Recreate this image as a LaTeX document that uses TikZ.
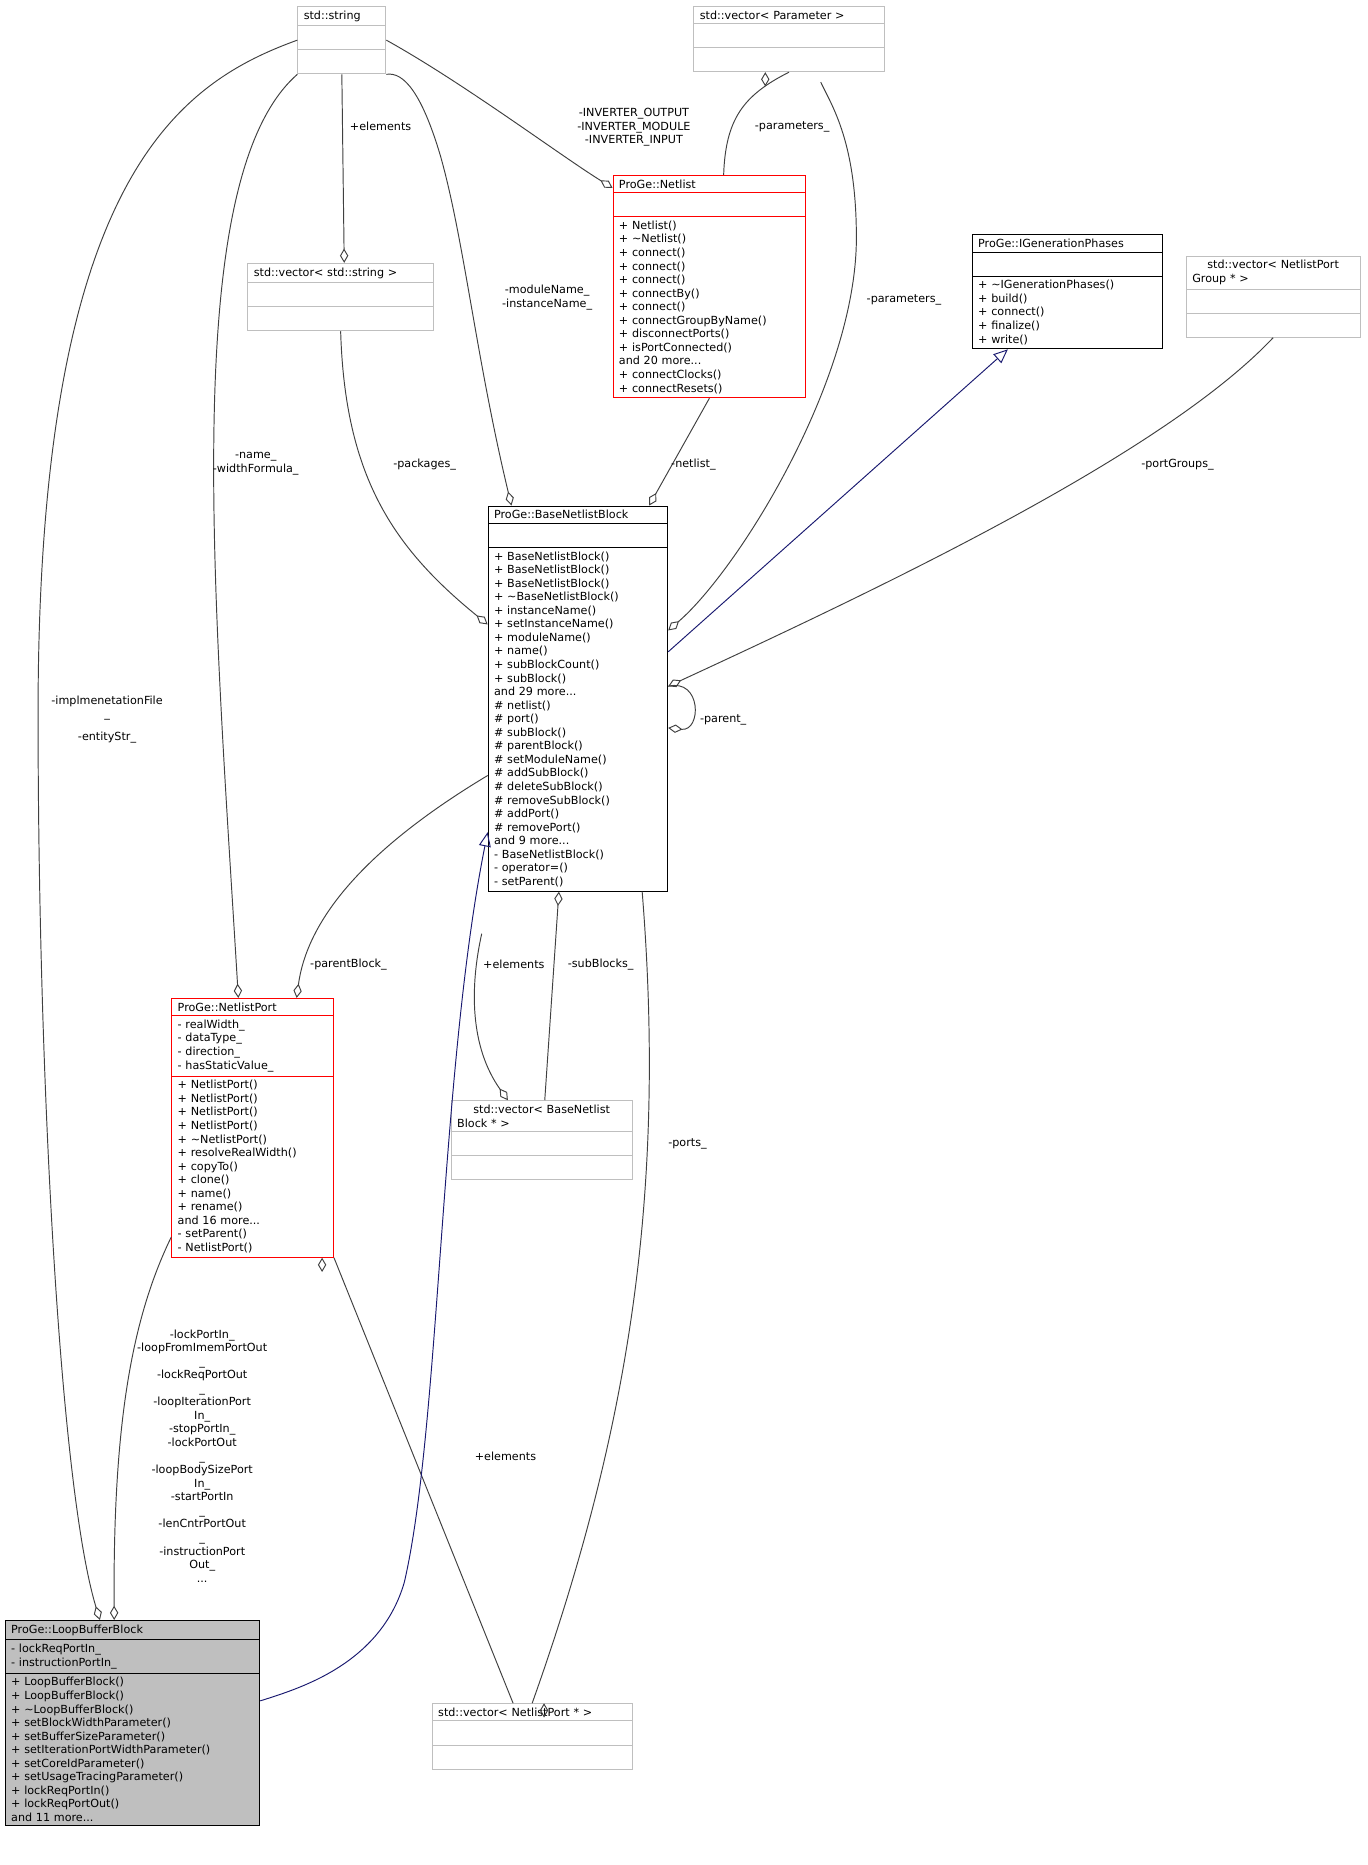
\documentclass[tikz,border=0pt]{standalone}
\usepackage{fontspec}
\setmainfont{DejaVu Sans}
\usetikzlibrary{arrows.meta, shapes.multipart}
\definecolor{edgeGray}{HTML}{404040}
\definecolor{boxGray}{HTML}{BFBFBF}
\definecolor{inhBlue}{HTML}{191970}
\definecolor{selFill}{HTML}{BFBFBF}
\newcommand{\emptypart}{\rule{0pt}{6.5pt}}
\newcommand{\tl}{\textasciitilde}

\begin{document}
\begin{tikzpicture}[
    x=0.5pt, y=-0.5pt,
    cls/.style={rectangle split, rectangle split parts=3, draw, anchor=north west,
      inner xsep=2.5pt, inner ysep=1.6pt, align=left, fill=white,
      font=\fontsize{4.7}{5.7}\selectfont},
    stdcls/.style={cls, draw=boxGray},
    redcls/.style={cls, draw=red},
    agg/.style={edgeGray, {Diamond[open, length=6pt, width=3.5pt]}-},
    inh/.style={inhBlue, {Triangle[open, length=6pt, width=5pt]}-},
    lbl/.style={font=\fontsize{4.7}{5.7}\selectfont, align=center, inner sep=0.5pt}
  ]
  \useasboundingbox[fill=white] (0,0) rectangle (1150,1568);

  % Template containers
  \node[stdcls, text width=32pt] (str) at (250,5) {\centering std::string\nodepart{second}\emptypart\nodepart{third}\emptypart};
  \node[stdcls, text width=75pt] (vpar) at (583,5) {\centering std::vector< Parameter >\nodepart{second}\emptypart\nodepart{third}\emptypart};
  \node[stdcls, text width=73pt] (vstr) at (208,221) {\centering std::vector< std::string >\nodepart{second}\emptypart\nodepart{third}\emptypart};
  \node[stdcls, text width=68pt] (vgrp) at (997,215) {\centering std::vector< NetlistPort\\Group * >\nodepart{second}\emptypart\nodepart{third}\emptypart};
  \node[stdcls, text width=71pt] (vblk) at (379,925) {\centering std::vector< BaseNetlist\\Block * >\nodepart{second}\emptypart\nodepart{third}\emptypart};
  \node[stdcls, text width=79pt] (vport) at (363,1432) {\centering std::vector< NetlistPort * >\nodepart{second}\emptypart\nodepart{third}\emptypart};

  % Classes
  \node[redcls, text width=76pt] (netlist) at (515,147) {\centering ProGe::Netlist\nodepart{second}\emptypart\nodepart{third}+ Netlist()\\+ \tl Netlist()\\+ connect()\\+ connect()\\+ connect()\\+ connectBy()\\+ connect()\\+ connectGroupByName()\\+ disconnectPorts()\\+ isPortConnected()\\and 20 more...\\+ connectClocks()\\+ connectResets()};
  \node[cls, text width=75pt] (igen) at (817,197) {\centering ProGe::IGenerationPhases\nodepart{second}\emptypart\nodepart{third}+ \tl IGenerationPhases()\\+ build()\\+ connect()\\+ finalize()\\+ write()};
  \node[cls, text width=70.5pt] (bnb) at (410,425) {\centering ProGe::BaseNetlistBlock\nodepart{second}\emptypart\nodepart{third}+ BaseNetlistBlock()\\+ BaseNetlistBlock()\\+ BaseNetlistBlock()\\+ \tl BaseNetlistBlock()\\+ instanceName()\\+ setInstanceName()\\+ moduleName()\\+ name()\\+ subBlockCount()\\+ subBlock()\\and 29 more...\\\# netlist()\\\# port()\\\# subBlock()\\\# parentBlock()\\\# setModuleName()\\\# addSubBlock()\\\# deleteSubBlock()\\\# removeSubBlock()\\\# addPort()\\\# removePort()\\and 9 more...\\- BaseNetlistBlock()\\- operator=()\\- setParent()};
  \node[redcls, text width=63pt] (nport) at (144,839) {\centering ProGe::NetlistPort\nodepart{second}- realWidth\_\\- dataType\_\\- direction\_\\- hasStaticValue\_\nodepart{third}+ NetlistPort()\\+ NetlistPort()\\+ NetlistPort()\\+ NetlistPort()\\+ \tl NetlistPort()\\+ resolveRealWidth()\\+ copyTo()\\+ clone()\\+ name()\\+ rename()\\and 16 more...\\- setParent()\\- NetlistPort()};
  \node[cls, fill=selFill, text width=102pt] (lbb) at (4,1362) {\centering ProGe::LoopBufferBlock\nodepart{second}- lockReqPortIn\_\\- instructionPortIn\_\nodepart{third}+ LoopBufferBlock()\\+ LoopBufferBlock()\\+ \tl LoopBufferBlock()\\+ setBlockWidthParameter()\\+ setBufferSizeParameter()\\+ setIterationPortWidthParameter()\\+ setCoreIdParameter()\\+ setUsageTracingParameter()\\+ lockReqPortIn()\\+ lockReqPortOut()\\and 11 more...};

  % Aggregations
  \draw[agg] (lbb.north west) ++(80,0) .. controls (50,1250) and (32,900) .. (32,600) .. controls (32,150) and (150,70) .. (str.west);
  \draw[agg] (lbb.north west) ++(92,0) .. controls (95,1200) and (110,1110) .. (nport.west |- 0,1040);
  \draw[agg] (nport.north) ++(-12,0) .. controls (180,500) and (150,150) .. (str.south west);
  \draw[agg] (vstr.north) ++(3,0) -- (str.south);
  \draw[agg] (bnb.north west) ++(20,0) .. controls (400,300) and (390,200) .. (370,130) .. controls (355,80) and (340,60) .. (str.south east);
  \draw[agg] (netlist.north west) ++(0,11) .. controls (470,130) and (390,70) .. (str.east);
  \draw[agg] (netlist.north) ++(12,0) .. controls (610,100) and (625,80) .. (vpar.south) ++(-20,0);
  \draw[agg] (bnb.east |- 0,530) .. controls (620,480) and (720,320) .. (720,200) .. controls (720,120) and (700,90) .. (690,69);
  \draw[agg] (bnb.north east) ++(-16,0) -- (netlist.south);
  \draw[agg] (bnb.east |- 0,577) .. controls (750,490) and (980,380) .. (vgrp.south);
  \draw[agg] (bnb.west |- 0,525) .. controls (330,460) and (290,400) .. (vstr.south);
  \draw[agg] (bnb.east |- 0,612) .. controls (590,615) and (590,570) .. (bnb.east |- 0,577);
  \draw[agg] (nport.north) ++(37,0) .. controls (260,760) and (330,700) .. (bnb.west |- 0,652);
  \draw[agg] (vblk.north west) ++(48,0) .. controls (395,880) and (395,830) .. (405,785);
  \draw[agg] (bnb.south) ++(-16,0) -- (458,925);
  \draw[agg] (bnb.south) ++(54,0) .. controls (560,1000) and (530,1200) .. (vport.north) ++(10,0);
  \draw[agg] (vport.north) ++(-16,0) -- (nport.south east) ++(-10,0);

  % Inheritance
  \draw[inh] (igen.south) ++(-50,0) -- (bnb.east |- 0,548);
  \draw[inh] (bnb.south west) ++(0,-50) .. controls (370,900) and (370,1200) .. (340,1330) .. controls (320,1400) and (250,1420) .. (lbb.east |- 0,1430);

  % Edge labels
  \node[lbl] (lstr1) at (90,605) {-implmenetationFile\\\_\\[4pt]-entityStr\_};
  \node[lbl] (lstr2) at (215,390) {-name\_\\-widthFormula\_};
  \node[lbl] (lstr3) at (320,106) {+elements};
  \node[lbl] (lstr4) at (460,250) {-moduleName\_\\-instanceName\_};
  \node[lbl] (lstr5) at (533,107) {-INVERTER\_OUTPUT\\-INVERTER\_MODULE\\-INVERTER\_INPUT};
  \node[lbl] (lpar1) at (666,107) {-parameters\_};
  \node[lbl] (lpar2) at (760,252) {-parameters\_};
  \node[lbl] (lnet) at (583,391) {-netlist\_};
  \node[lbl] (lgrp) at (990,391) {-portGroups\_};
  \node[lbl] (lpkg) at (357,391) {-packages\_};
  \node[lbl] (lpar) at (608,605) {-parent\_};
  \node[lbl] (lpb) at (293,811) {-parentBlock\_};
  \node[lbl] (lel1) at (432,811) {+elements};
  \node[lbl] (lsub) at (505,811) {-subBlocks\_};
  \node[lbl] (lports) at (578,962) {-ports\_};
  \node[lbl] (lel2) at (425,1224) {+elements};
  \node[lbl] (llbb) at (170,1224) {-lockPortIn\_\\-loopFromImemPortOut\\\_\\-lockReqPortOut\\\_\\-loopIterationPort\\In\_\\-stopPortIn\_\\-lockPortOut\\\_\\-loopBodySizePort\\In\_\\-startPortIn\\\_\\-lenCntrPortOut\\\_\\-instructionPort\\Out\_\\...};
\end{tikzpicture}
\end{document}
